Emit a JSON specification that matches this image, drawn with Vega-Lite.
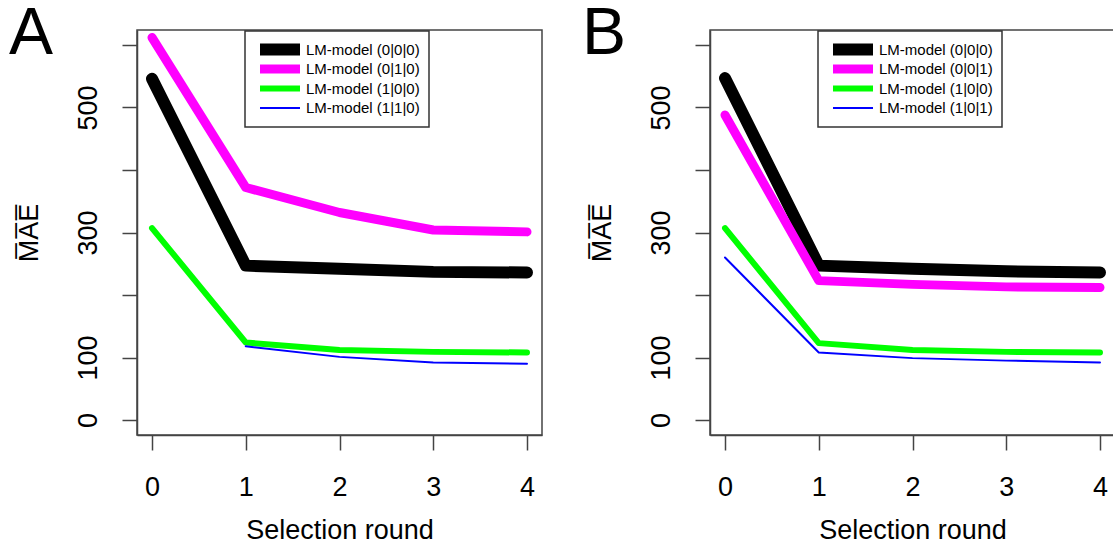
{
  "$schema": "https://vega.github.io/schema/vega-lite/v6.json",
  "padding": {"left": 8, "top": 0, "right": 0, "bottom": 0},
  "background": "white",
  "datasets": {
    "panelA": [
      {"round": 0, "model": "LM-model (0|0|0)", "mae": 546},
      {"round": 1, "model": "LM-model (0|0|0)", "mae": 247},
      {"round": 2, "model": "LM-model (0|0|0)", "mae": 242},
      {"round": 3, "model": "LM-model (0|0|0)", "mae": 237},
      {"round": 4, "model": "LM-model (0|0|0)", "mae": 236},
      {"round": 0, "model": "LM-model (0|1|0)", "mae": 612},
      {"round": 1, "model": "LM-model (0|1|0)", "mae": 372},
      {"round": 2, "model": "LM-model (0|1|0)", "mae": 332},
      {"round": 3, "model": "LM-model (0|1|0)", "mae": 304},
      {"round": 4, "model": "LM-model (0|1|0)", "mae": 301},
      {"round": 0, "model": "LM-model (1|0|0)", "mae": 307},
      {"round": 1, "model": "LM-model (1|0|0)", "mae": 124},
      {"round": 2, "model": "LM-model (1|0|0)", "mae": 112},
      {"round": 3, "model": "LM-model (1|0|0)", "mae": 109},
      {"round": 4, "model": "LM-model (1|0|0)", "mae": 108},
      {"round": 1, "model": "LM-model (1|1|0)", "mae": 118},
      {"round": 2, "model": "LM-model (1|1|0)", "mae": 101},
      {"round": 3, "model": "LM-model (1|1|0)", "mae": 92},
      {"round": 4, "model": "LM-model (1|1|0)", "mae": 90}
    ],
    "panelB": [
      {"round": 0, "model": "LM-model (0|0|0)", "mae": 547},
      {"round": 1, "model": "LM-model (0|0|0)", "mae": 247},
      {"round": 2, "model": "LM-model (0|0|0)", "mae": 242},
      {"round": 3, "model": "LM-model (0|0|0)", "mae": 238},
      {"round": 4, "model": "LM-model (0|0|0)", "mae": 236},
      {"round": 0, "model": "LM-model (0|0|1)", "mae": 488},
      {"round": 1, "model": "LM-model (0|0|1)", "mae": 223},
      {"round": 2, "model": "LM-model (0|0|1)", "mae": 217},
      {"round": 3, "model": "LM-model (0|0|1)", "mae": 213},
      {"round": 4, "model": "LM-model (0|0|1)", "mae": 212},
      {"round": 0, "model": "LM-model (1|0|0)", "mae": 307},
      {"round": 1, "model": "LM-model (1|0|0)", "mae": 123},
      {"round": 2, "model": "LM-model (1|0|0)", "mae": 112},
      {"round": 3, "model": "LM-model (1|0|0)", "mae": 109},
      {"round": 4, "model": "LM-model (1|0|0)", "mae": 108},
      {"round": 0, "model": "LM-model (1|0|1)", "mae": 260},
      {"round": 1, "model": "LM-model (1|0|1)", "mae": 108},
      {"round": 2, "model": "LM-model (1|0|1)", "mae": 99},
      {"round": 3, "model": "LM-model (1|0|1)", "mae": 95},
      {"round": 4, "model": "LM-model (1|0|1)", "mae": 92}
    ]
  },
  "hconcat": [
    {
      "title": {"text": "A", "dx": -6},
      "width": 405,
      "height": 405,
      "data": {"name": "panelA"},
      "mark": {"type": "line", "strokeCap": "round", "strokeJoin": "round"},
      "encoding": {
        "x": {"field": "round", "type": "quantitative", "scale": {"domain": [-0.16, 4.16], "nice": false, "zero": false}, "axis": {"values": [0, 1, 2, 3, 4], "title": "Selection round"}},
        "y": {"field": "mae", "type": "quantitative", "scale": {"domain": [-24, 624], "nice": false, "zero": false}, "axis": {"values": [0, 100, 200, 300, 400, 500, 600], "labelExpr": "datum.value==0||datum.value==100||datum.value==300||datum.value==500 ? datum.label : ''", "title": "M̅A̅E̅"}},
        "color": {"field": "model", "type": "ordinal", "scale": {"type": "ordinal", "domain": ["LM-model (0|0|0)", "LM-model (0|1|0)", "LM-model (1|0|0)", "LM-model (1|1|0)"], "range": ["#000000", "#FF00FF", "#00FF00", "#0000FF"]}, "legend": {"legendX": 108, "legendY": 1}},
        "strokeWidth": {"field": "model", "type": "ordinal", "scale": {"type": "ordinal", "domain": ["LM-model (0|0|0)", "LM-model (0|1|0)", "LM-model (1|0|0)", "LM-model (1|1|0)"], "range": [12, 9, 6, 2]}, "legend": {"legendX": 108, "legendY": 1}}
      }
    },
    {
      "title": {"text": "B", "dx": -6},
      "width": 405,
      "height": 405,
      "data": {"name": "panelB"},
      "mark": {"type": "line", "strokeCap": "round", "strokeJoin": "round"},
      "encoding": {
        "x": {"field": "round", "type": "quantitative", "scale": {"domain": [-0.16, 4.16], "nice": false, "zero": false}, "axis": {"values": [0, 1, 2, 3, 4], "title": "Selection round"}},
        "y": {"field": "mae", "type": "quantitative", "scale": {"domain": [-24, 624], "nice": false, "zero": false}, "axis": {"values": [0, 100, 200, 300, 400, 500, 600], "labelExpr": "datum.value==0||datum.value==100||datum.value==300||datum.value==500 ? datum.label : ''", "title": "M̅A̅E̅"}},
        "color": {"field": "model", "type": "ordinal", "scale": {"type": "ordinal", "domain": ["LM-model (0|0|0)", "LM-model (0|0|1)", "LM-model (1|0|0)", "LM-model (1|0|1)"], "range": ["#000000", "#FF00FF", "#00FF00", "#0000FF"]}, "legend": {"legendX": 108, "legendY": 1}},
        "strokeWidth": {"field": "model", "type": "ordinal", "scale": {"type": "ordinal", "domain": ["LM-model (0|0|0)", "LM-model (0|0|1)", "LM-model (1|0|0)", "LM-model (1|0|1)"], "range": [12, 9, 6, 2]}, "legend": {"legendX": 108, "legendY": 1}}
      }
    }
  ],
  "spacing": 38,
  "resolve": {
    "scale": {"color": "independent", "strokeWidth": "independent"},
    "legend": {"color": "independent", "strokeWidth": "independent"}
  },
  "config": {
    "font": "Liberation Sans",
    "view": {"stroke": "#444444", "strokeWidth": 1.5},
    "title": {"anchor": "start", "frame": "bounds", "fontSize": 66, "font": "Liberation Sans", "fontWeight": "normal", "color": "#000000", "offset": -38},
    "axis": {
      "grid": false,
      "labelFont": "Liberation Sans",
      "labelFontSize": 27,
      "labelColor": "#000000",
      "titleFont": "Liberation Sans",
      "titleFontSize": 27,
      "titleFontWeight": "normal",
      "titleColor": "#000000",
      "tickSize": 15,
      "tickColor": "#444444",
      "tickWidth": 1.5,
      "domainColor": "#444444",
      "domainWidth": 1.5,
      "labelFlush": false,
      "labelOverlap": false
    },
    "axisX": {"labelPadding": 24, "titlePadding": 17},
    "axisY": {"labelAngle": -90, "labelAlign": "center", "labelBaseline": "bottom", "labelPadding": 20, "titlePadding": 31},
    "legend": {
      "title": null,
      "orient": "none",
      "symbolType": "stroke",
      "symbolSize": 1600,
      "clipHeight": 19,
      "labelFont": "Liberation Sans",
      "labelFontSize": 15,
      "labelColor": "#000000",
      "labelOffset": 0,
      "padding": 9,
      "rowPadding": 0.5,
      "strokeColor": "#333333",
      "strokeWidth": 1.5,
      "fillColor": "#ffffff"
    }
  }
}
